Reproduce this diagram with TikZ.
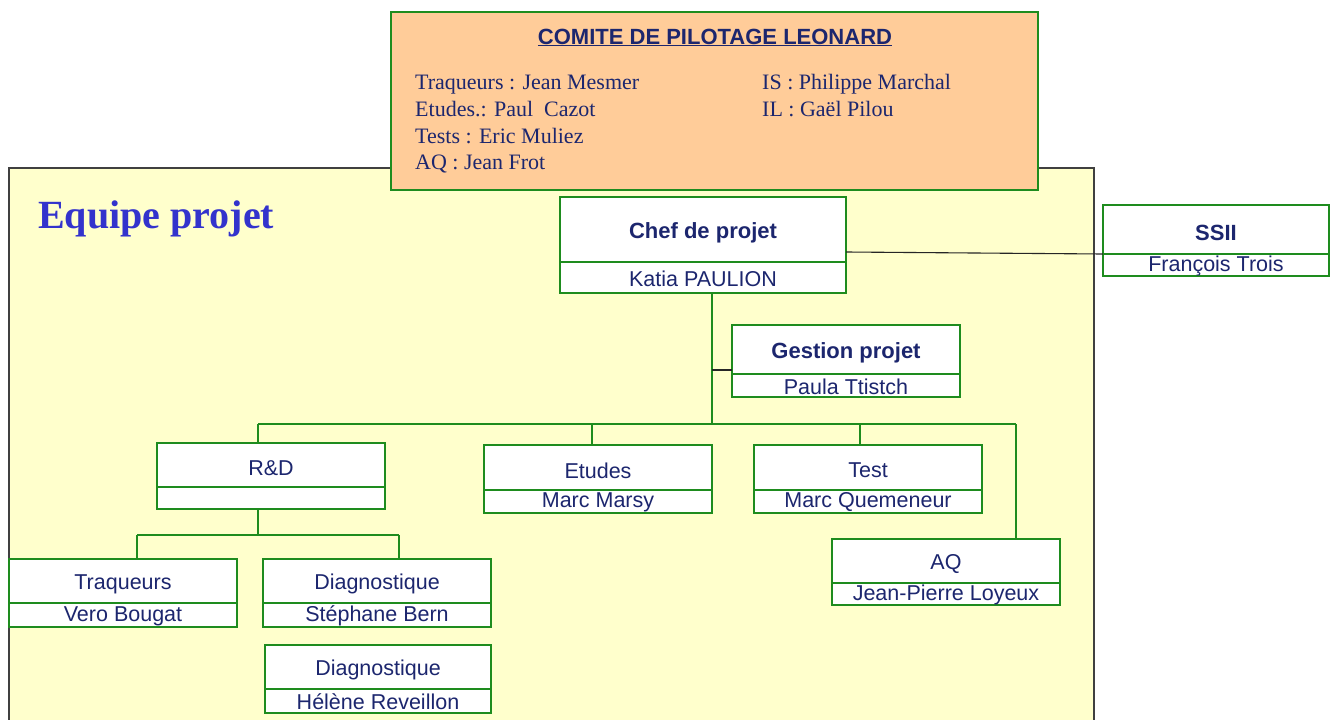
\documentclass[tikz,border=0pt]{standalone}
\usepackage{fontspec}
\setmainfont{Liberation Serif}
\setsansfont{Liberation Sans}
\usetikzlibrary{fit,calc}
\definecolor{navy}{RGB}{28,38,110}
\definecolor{gborder}{RGB}{30,140,30}
\definecolor{peach}{RGB}{255,204,153}
\definecolor{paleyellow}{RGB}{255,255,204}
\definecolor{eqblue}{RGB}{51,51,204}
\tikzset{
  gline/.style={draw=gborder, line width=1.6pt},
  kline/.style={draw=black!85, line width=1.1pt},
  obox/.style={draw=gborder, fill=white, line width=1.6pt, inner sep=0pt, outer sep=0pt},
  otext/.style={text=navy, font=\sffamily\fontsize{21.5}{24}\selectfont, inner sep=0pt},
  stext/.style={text=navy, font=\rmfamily\fontsize{22}{26}\selectfont, inner sep=0pt, anchor=base west},
  btitle/.style={font=\sffamily\bfseries\fontsize{22}{24}\selectfont},
}
\newcommand\orgbox[9][]{%
  \node[obox, fit={(#3,#4)(#5,#6)}] (#2) {};
  \coordinate (#2-d) at (0,#7);
  \draw[gline] (#2.west |- #2-d) -- (#2.east |- #2-d);
  \node[otext,#1,yshift=-3pt] (#2-t) at ($(#2.north)!0.5!(#2.north |- #2-d)$) {#8};
  \node[otext,yshift=-1pt] (#2-s) at ($(#2.south)!0.5!(#2.south |- #2-d)$) {#9};
}
\begin{document}
\begin{tikzpicture}[x=1pt,y=-1pt]
\useasboundingbox (0,0) rectangle (1333,720);
% team frame
\node[draw=black!75, fill=paleyellow, line width=1.8pt, inner sep=0pt, outer sep=0pt,
  fit={(9,168)(1094,740)}] (team) {};
\node[text=eqblue, font=\rmfamily\bfseries\fontsize{40}{44}\selectfont, anchor=base west, inner sep=0pt]
  (teamlbl) at (38,228) {Equipe projet};
% steering committee
\node[draw=gborder, fill=peach, line width=1.6pt, inner sep=0pt, outer sep=0pt,
  fit={(391,12)(1038,190)}] (comite) {};
\node[text=navy, font=\sffamily\bfseries\fontsize{22}{24}\selectfont, anchor=base, inner sep=0pt]
  (comite-t) at (715,44) {\underline{COMITE DE PILOTAGE LEONARD}};
\node[stext] (c1) at (415,89) {Traqueurs : Jean Mesmer};
\node[stext] (c2) at (415,116) {Etudes.: Paul\ \ Cazot};
\node[stext] (c3) at (415,143) {Tests : Eric Muliez};
\node[stext] (c4) at (415,169) {AQ : Jean Frot};
\node[stext] (c5) at (762,89) {IS : Philippe Marchal};
\node[stext] (c6) at (762,116) {IL : Gaël Pilou};
% connector points
\coordinate (bus) at (712,424);
\coordinate (busL) at (258,424);
\coordinate (busR) at (1016,424);
\coordinate (gj) at (712,370);
\coordinate (etx) at (592,424);
\coordinate (tsx) at (860,424);
\coordinate (rdj) at (258,535);
\coordinate (rdL) at (137,535);
\coordinate (rdR) at (399,535);
\coordinate (sA) at (0,252);
\coordinate (sB) at (0,254);
% boxes
\orgbox[btitle]{chef}{560}{197}{846}{293}{262}{Chef de projet}{Katia PAULION}
\orgbox[btitle]{ssii}{1103}{205}{1329}{276}{254}{SSII}{François Trois}
\orgbox[btitle]{gest}{732}{325}{960}{397}{374}{Gestion projet}{Paula Ttistch}
\orgbox{rd}{157}{443}{385}{509}{487}{R\&D}{}
\orgbox{etu}{484}{445}{712}{513}{490}{Etudes}{Marc Marsy}
\orgbox{tst}{754}{445}{982}{513}{490}{Test}{Marc Quemeneur}
\orgbox{aq}{832}{539}{1060}{605}{583}{AQ}{Jean-Pierre Loyeux}
\orgbox{trq}{9}{559}{237}{627}{603}{Traqueurs}{Vero Bougat}
\orgbox{dg1}{263}{559}{491}{627}{603}{Diagnostique}{Stéphane Bern}
\orgbox{dg2}{265}{645}{491}{713}{689}{Diagnostique}{Hélène Reveillon}
% lines
\draw[gline] (chef.south -| bus) -- (bus);
\draw[kline] (gj) -- (gest.west |- gj);
\draw[gline] (busL) -- (busR);
\draw[gline] (busL) -- (rd.north -| busL);
\draw[gline] (etx) -- (etu.north -| etx);
\draw[gline] (tsx) -- (tst.north -| tsx);
\draw[gline] (busR) -- (aq.north -| busR);
\draw[gline] (rd.south -| rdj) -- (rdj);
\draw[gline] (rdL) -- (rdR);
\draw[gline] (rdL) -- (trq.north -| rdL);
\draw[gline] (rdR) -- (dg1.north -| rdR);
\draw[kline] (chef.east |- sA) -- (ssii.west |- sB);
\end{tikzpicture}
\end{document}
